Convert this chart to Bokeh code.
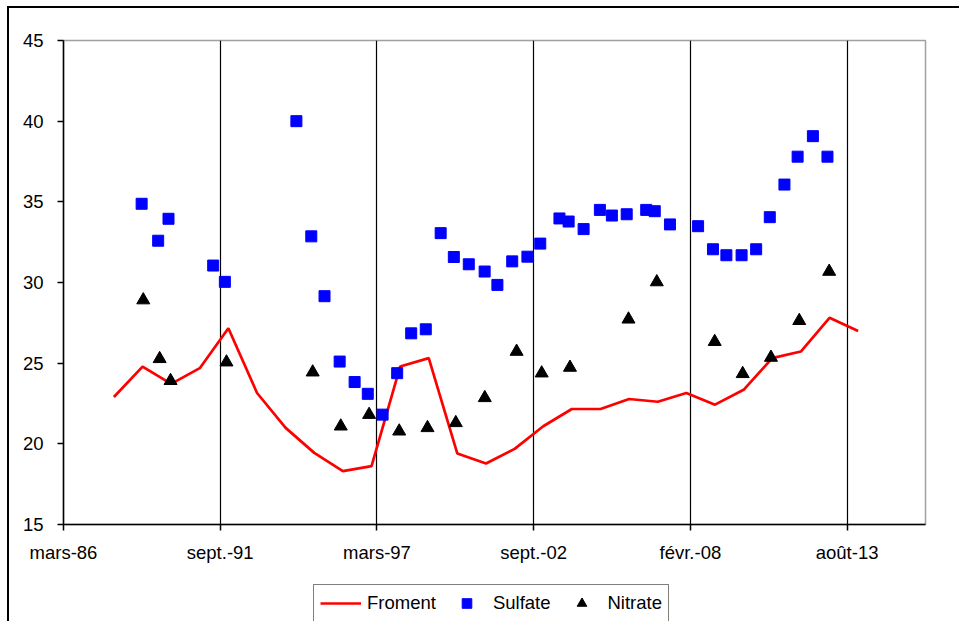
import pandas as pd
from bokeh.plotting import figure
from bokeh.layouts import column
from bokeh.models import (Range1d, FixedTicker, Legend, LegendItem, ColumnDataSource)
from bokeh.embed import file_html
from bokeh.resources import INLINE

# ---------------- data ----------------
froment_years = list(range(1988, 2015))
froment_values = [22.90, 24.79, 23.72, 24.69, 27.16, 23.15, 20.99, 19.44, 18.31, 18.62,
                  24.79, 25.31, 19.40, 18.78, 19.69, 21.09, 22.16, 22.16, 22.78, 22.61,
                  23.15, 22.43, 23.35, 25.31, 25.72, 27.81, 26.99]

sulfate_dates = ["1988-12-20", "1989-07-19", "1989-11-28", "1991-06-21", "1991-11-17",
                 "1994-05-18", "1994-11-24", "1995-05-12", "1995-11-21", "1996-05-30",
                 "1996-11-14", "1997-05-22", "1997-11-24", "1998-05-22", "1998-11-24",
                 "1999-06-02", "1999-11-17", "2000-05-26", "2000-12-14", "2001-05-26",
                 "2001-12-01", "2002-06-13", "2002-11-24", "2003-07-27", "2003-11-21",
                 "2004-05-30", "2004-12-24", "2005-05-26", "2005-12-01", "2006-08-07",
                 "2006-11-24", "2007-06-06", "2008-05-30", "2008-12-06", "2009-05-26",
                 "2009-12-06", "2010-06-10", "2010-12-01", "2011-06-06", "2011-11-21",
                 "2012-06-03", "2012-12-06"]
sulfate_values = [34.88, 32.59, 33.95, 31.05, 30.04,
                  40.00, 32.86, 29.15, 25.10, 23.83,
                  23.10, 21.81, 24.38, 26.85, 27.10,
                  33.06, 31.58, 31.13, 30.68, 29.85,
                  31.31, 31.60, 32.41, 33.97, 33.78,
                  33.31, 34.50, 34.15, 34.23, 34.50,
                  34.42, 33.60, 33.49, 32.06, 31.69,
                  31.69, 32.06, 34.05, 36.07, 37.80,
                  39.07, 37.80]

nitrate_dates = ["1989-01-10", "1989-08-07", "1989-12-24", "1991-12-08", "1994-12-12",
                 "1995-12-05", "1996-12-01", "1997-12-20", "1998-12-16", "1999-12-12",
                 "2000-12-16", "2002-01-26", "2002-12-12", "2003-12-08", "2005-12-24",
                 "2006-12-20", "2008-12-28", "2009-12-20", "2010-12-16", "2011-12-12",
                 "2012-12-28"]
nitrate_values = [28.91, 25.27, 23.91, 25.06, 24.44,
                  21.09, 21.81, 20.78, 20.99, 21.30,
                  22.85, 25.72, 24.38, 24.73, 27.72,
                  30.03, 26.33, 24.34, 25.35, 27.63,
                  30.68]

# Excel date-axis: serial day numbers of the tick marks and their labels
tick_serials = [31500, 33500, 35500, 37500, 39500, 41500]
tick_labels = ["mars-86", "sept.-91", "mars-97", "sept.-02", "févr.-08", "août-13"]
x_min, x_max = 31500, 42500
y_ticks = [15, 20, 25, 30, 35, 40, 45]

EPOCH = pd.Timestamp("1899-12-30")


def serial(dates):
    return [int((pd.Timestamp(d) - EPOCH).days) for d in dates]


froment_x = serial([f"{y}-01-01" for y in froment_years])
sulfate_x = serial(sulfate_dates)
nitrate_x = serial(nitrate_dates)

FONT = "Liberation Sans"

src_f = ColumnDataSource(dict(x=froment_x, y=froment_values))
src_s = ColumnDataSource(dict(x=sulfate_x, y=sulfate_values))
src_n = ColumnDataSource(dict(x=nitrate_x, y=nitrate_values))

# ---------------- main chart ----------------
p = figure(width=950, height=557, output_backend="svg", toolbar_location=None,
           x_range=Range1d(x_min, x_max), y_range=Range1d(15, 45),
           min_border_left=54, min_border_top=32, min_border_right=34, min_border_bottom=40,
           background_fill_color="white", border_fill_color="white")

p.outline_line_color = "#a0a0a0"
p.outline_line_width = 1.5

xt = FixedTicker(ticks=tick_serials)
p.xaxis.ticker = xt
p.xaxis.major_label_overrides = {t: l for t, l in zip(tick_serials, tick_labels)}
p.yaxis.ticker = FixedTicker(ticks=y_ticks)

for ax in (p.xaxis[0], p.yaxis[0]):
    ax.axis_line_color = "black"
    ax.axis_line_width = 1.5
    ax.major_tick_line_color = "black"
    ax.major_tick_line_width = 1.5
    ax.major_tick_out = 6
    ax.major_tick_in = 0
    ax.minor_tick_line_color = None
    ax.major_label_text_font = FONT
    ax.major_label_text_font_size = "18.5px"
    ax.major_label_text_color = "black"
p.xaxis.major_label_standoff = 11
p.yaxis.major_label_standoff = 14

p.xgrid.ticker = xt
p.xgrid.grid_line_color = "black"
p.xgrid.grid_line_width = 1.2
p.ygrid.grid_line_color = None

p.line("x", "y", source=src_f, line_color="#ff0000", line_width=2.7)
p.scatter("x", "y", source=src_s, marker="square", size=11,
          fill_color="#0000ff", line_color="#0000ff")
p.scatter("x", "y", source=src_n, marker="triangle", size=13,
          fill_color="black", line_color="black")

# ---------------- legend strip below the chart ----------------
lf = figure(width=950, height=56, output_backend="svg", toolbar_location=None,
            x_range=Range1d(0, 1), y_range=Range1d(0, 1),
            x_axis_location=None, y_axis_location=None, min_border=0,
            background_fill_color="white", border_fill_color="white")
lf.outline_line_color = None
lf.grid.visible = False
l_f = lf.line("x", "y", source=src_f, line_color="#ff0000", line_width=2.7)
l_s = lf.scatter("x", "y", source=src_s, marker="square", size=11,
                 fill_color="#0000ff", line_color="#0000ff")
l_n = lf.scatter("x", "y", source=src_n, marker="triangle", size=13,
                 fill_color="black", line_color="black")

legend = Legend(items=[LegendItem(label="Froment", renderers=[l_f]),
                       LegendItem(label="Sulfate", renderers=[l_s]),
                       LegendItem(label="Nitrate", renderers=[l_n])],
                orientation="horizontal", location=(250, -1),
                label_text_font=FONT, label_text_font_size="18.5px",
                label_text_color="black",
                glyph_width=41, glyph_height=24, label_standoff=6, spacing=10,
                padding=6, margin=0, border_line_color="black", border_line_width=1.5,
                background_fill_color="white", background_fill_alpha=1)
lf.add_layout(legend, "center")

layout = column(p, lf, spacing=0,
                styles={"border-left": "2px solid black", "border-top": "2px solid black",
                        "margin-left": "7px", "margin-top": "6px"})

open("out.html", "w").write(file_html(layout, INLINE))
